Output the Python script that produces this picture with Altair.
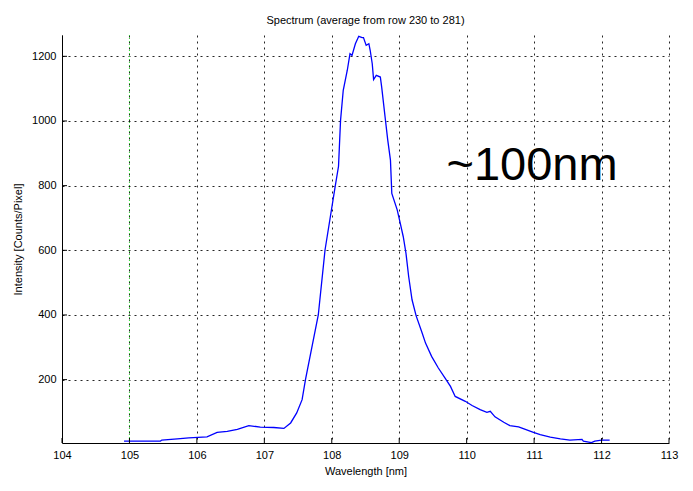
import altair as alt
import pandas as pd

# Spectrum trace
wl = [104.92, 105.46, 105.48, 105.71, 105.88, 106.15, 106.30, 106.45, 106.60, 106.77,
      106.94, 107.14, 107.29, 107.39, 107.48, 107.56, 107.61, 107.80, 107.90, 108.05,
      108.10, 108.13, 108.17, 108.23, 108.27, 108.30, 108.35, 108.40, 108.45, 108.47,
      108.51, 108.55, 108.57, 108.60, 108.62, 108.66, 108.72, 108.74, 108.79, 108.83,
      108.87, 108.89, 108.97, 109.01, 109.06, 109.10, 109.14, 109.19, 109.25, 109.34,
      109.39, 109.48, 109.58, 109.68, 109.76, 109.83, 109.98, 110.08, 110.20, 110.30,
      110.35, 110.42, 110.55, 110.64, 110.77, 110.87, 110.99, 111.09, 111.24, 111.39,
      111.53, 111.71, 111.73, 111.83, 111.85, 111.90, 112.00, 112.12]
intensity = [10, 10, 13, 17, 20, 23, 37, 40, 46, 58,
             53, 52, 49, 66, 97, 138, 200, 400, 601, 797,
             860, 1002, 1095, 1157, 1208, 1203, 1239, 1262, 1258, 1258,
             1234, 1239, 1218, 1177, 1128, 1141, 1136, 1105, 1013, 941,
             879, 776, 725, 689, 642, 591, 519, 447, 398, 344,
             313, 272, 236, 205, 179, 148, 133, 120, 107, 99,
             102, 85, 68, 58, 54, 46, 37, 30, 22, 17,
             13, 15, 10, 6, 5, 10, 13, 13]

x_ticks = [104, 105, 106, 107, 108, 109, 110, 111, 112, 113]
y_ticks = [200, 400, 600, 800, 1000, 1200]
marker_x = [105]

note_x = [109.70]
note_y = [817]
note_text = ["~100nm"]

title_text = "Spectrum (average from row 230 to 281)"
x_title = "Wavelength [nm]"
y_title = "Intensity [Counts/Pixel]"

FONT = "Liberation Sans"
xs = alt.Scale(domain=[104, 113], nice=False, zero=False)
ys = alt.Scale(domain=[4, 1266], nice=False, zero=False)

df = pd.DataFrame({"wl": wl, "I": intensity})
xt = pd.DataFrame({"wl": x_ticks})
yt = pd.DataFrame({"I": y_ticks})
mk = pd.DataFrame({"wl": marker_x})
note = pd.DataFrame({"wl": note_x, "I": note_y, "s": note_text})

grid_dash = [2, 4]

XAX = alt.Axis(values=x_ticks, title=x_title, format="d", grid=True,
               gridDash=grid_dash, gridColor="#000000", gridOpacity=0.85,
               ticks=False, labelPadding=6, titlePadding=5, labelFlush=False,
               labelOverlap=False,
               domainColor="black", labelColor="black", titleColor="black")
YAX = alt.Axis(values=y_ticks, title=y_title, format="d", grid=True,
               gridDash=grid_dash, gridColor="#000000", gridOpacity=0.85,
               ticks=False, labelPadding=6, titlePadding=8, labelFlush=False,
               labelOverlap=False,
               domainColor="black", labelColor="black", titleColor="black")

X = alt.X("wl:Q", scale=xs, axis=XAX)
Y = alt.Y("I:Q", scale=ys, axis=YAX)

line = alt.Chart(df).mark_line(color="#0000ff", strokeWidth=1.3).encode(x=X, y=Y)

green = alt.Chart(mk).mark_rule(color="#33dd33", strokeDash=[1, 2], strokeDashOffset=3,
                                strokeWidth=1).encode(x=X)

xtick = alt.Chart(xt).mark_rule(color="black", strokeWidth=1).encode(
    x=X, y=alt.value(408), y2=alt.value(403)
)
ytick = alt.Chart(yt).mark_rule(color="black", strokeWidth=1).encode(
    y=Y, x=alt.value(0), x2=alt.value(5)
)

txt = alt.Chart(note).mark_text(align="left", baseline="alphabetic", fontSize=47,
                                font=FONT, color="black").encode(x=X, y=Y, text="s:N")

chart = alt.layer(line, green, xtick, ytick, txt).properties(
    width=607, height=408,
    title=alt.TitleParams(title_text, fontSize=11, fontWeight="normal", font=FONT,
                          color="black", anchor="middle", offset=8),
    autosize=alt.AutoSizeParams(type="none"),
    padding={"left": 62, "top": 35, "right": 24, "bottom": 48},
).configure_view(stroke=None).configure_axis(
    labelFont=FONT, titleFont=FONT, labelFontSize=11, titleFontSize=11,
    titleFontWeight="normal", domainWidth=1
)

chart.save("out.html", embed_options={"renderer": "svg", "actions": False})
